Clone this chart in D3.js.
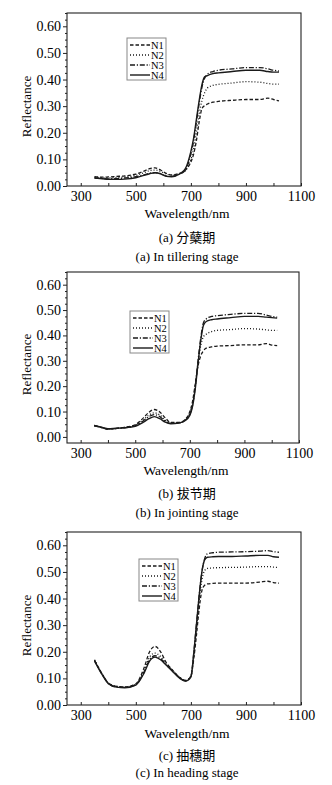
<!DOCTYPE html>
<html>
<head>
<meta charset="utf-8">
<script src="https://cdn.jsdelivr.net/npm/d3@7"></script>
<style>
  html, body { margin: 0; padding: 0; background: #fff; }
  svg { display: block; }
  text { font-family: "Liberation Serif", "Times New Roman", "Noto Sans CJK SC", serif; fill: #000; }
</style>
</head>
<body>
<svg id="chart" width="332" height="785"></svg>
<script>
// Wavelengths (nm) at which reflectance was sampled
const wavelengths = [350,380,400,430,460,500,530,550,570,590,610,630,660,680,700,710,720,730,740,750,760,780,800,850,900,950,980,1000,1020];

// (a) tillering stage
const tilleringN1 = [.035,.033,.034,.036,.038,.045,.056,.065,.068,.060,.048,.042,.048,.060,.090,.120,.170,.240,.290,.302,.308,.315,.318,.322,.325,.325,.330,.325,.320];
const tilleringN2 = [.033,.031,.030,.032,.034,.040,.050,.058,.060,.055,.045,.040,.046,.058,.100,.140,.200,.270,.320,.350,.368,.378,.382,.387,.392,.390,.385,.383,.383];
const tilleringN3 = [.030,.028,.027,.028,.030,.035,.042,.048,.050,.046,.038,.036,.045,.060,.120,.170,.240,.310,.370,.405,.420,.430,.435,.440,.445,.445,.440,.435,.432];
const tilleringN4 = [.030,.027,.025,.025,.026,.031,.040,.046,.050,.046,.036,.035,.046,.065,.130,.180,.250,.320,.380,.410,.415,.422,.425,.430,.435,.435,.430,.428,.428];

// (b) jointing stage
const jointingN1 = [.044,.036,.031,.034,.038,.048,.075,.097,.108,.098,.075,.057,.057,.066,.100,.140,.210,.280,.320,.340,.350,.355,.358,.360,.363,.363,.368,.362,.360];
const jointingN2 = [.044,.036,.031,.033,.037,.046,.068,.086,.095,.086,.066,.054,.056,.065,.095,.130,.200,.290,.360,.395,.405,.415,.420,.423,.427,.425,.422,.420,.420];
const jointingN3 = [.045,.036,.031,.033,.036,.044,.064,.080,.088,.080,.062,.053,.055,.063,.090,.125,.200,.300,.390,.450,.465,.475,.478,.483,.487,.487,.480,.475,.472];
const jointingN4 = [.045,.037,.032,.034,.036,.042,.058,.072,.080,.072,.058,.052,.055,.062,.085,.120,.190,.290,.380,.440,.455,.462,.465,.470,.475,.475,.472,.470,.468];

// (c) heading stage
const headingN1 = [.168,.112,.082,.070,.068,.080,.140,.200,.220,.200,.160,.135,.103,.092,.108,.170,.260,.360,.430,.450,.455,.457,.458,.458,.458,.462,.465,.460,.458];
const headingN2 = [.170,.113,.083,.070,.068,.078,.130,.180,.195,.182,.156,.134,.103,.092,.108,.180,.280,.390,.470,.505,.513,.515,.516,.517,.518,.520,.520,.518,.517];
const headingN3 = [.168,.112,.082,.068,.066,.076,.125,.170,.185,.175,.152,.132,.102,.091,.107,.190,.300,.410,.500,.550,.568,.572,.574,.575,.576,.578,.580,.576,.574];
const headingN4 = [.165,.110,.080,.067,.065,.075,.120,.165,.180,.170,.150,.130,.100,.090,.105,.190,.300,.410,.500,.545,.555,.557,.558,.558,.560,.562,.562,.557,.555];

// Axis ticks and labels
const seriesNames = ["N1", "N2", "N3", "N4"];
const xTickValues = [300, 500, 700, 900, 1100];
const yTickValues = [0, 0.1, 0.2, 0.3, 0.4, 0.5, 0.6];

const dashes = ["3.5,2", "1,2", "5,1.8,1.2,1.8", null];

const panels = [
  { box: [67, 301, 13, 186], yMin: 0, legend: [127, 38],
    series: [tilleringN1, tilleringN2, tilleringN3, tilleringN4],
    axisTitleY: 218, cnY: 242, enY: 261,
    cn: "(a) 分蘖期", en: "(a) In tillering stage" },
  { box: [67, 299, 272, 443], yMin: -0.024, legend: [130, 311],
    series: [jointingN1, jointingN2, jointingN3, jointingN4],
    axisTitleY: 475, cnY: 498, enY: 517,
    cn: "(b) 拔节期", en: "(b) In jointing stage" },
  { box: [67, 301, 532, 705], yMin: 0, legend: [139, 559],
    series: [headingN1, headingN2, headingN3, headingN4],
    axisTitleY: 738, cnY: 760, enY: 777,
    cn: "(c) 抽穗期", en: "(c) In heading stage" }
];

const svg = d3.select("#chart");
const serif = "'Liberation Serif', 'Times New Roman', 'Noto Sans CJK SC', serif";

panels.forEach(p => {
  const [x0, x1, y0, y1] = p.box;
  const x = d3.scaleLinear().domain([250, 1100]).range([x0, x1]);
  const y = d3.scaleLinear().domain([p.yMin, 0.65]).range([y1, y0]);
  const g = svg.append("g");

  // frame
  g.append("rect").attr("x", x0).attr("y", y0)
    .attr("width", x1 - x0).attr("height", y1 - y0)
    .attr("fill", "none").attr("stroke", "#222").attr("stroke-width", 1.1);

  // x axis: inward ticks every 100 nm, labels every 200 nm
  const xAxis = d3.axisBottom(x).tickValues(d3.range(300, 1101, 100))
    .tickSize(-3).tickFormat(d => xTickValues.includes(d) ? d : "");
  const gx = g.append("g").attr("transform", `translate(0,${y1})`).call(xAxis);
  gx.attr("font-family", serif);
  gx.select(".domain").remove();
  gx.selectAll(".tick line").attr("stroke", "#222");
  gx.selectAll(".tick text").attr("dy", "0").attr("y", 15)
    .style("font-size", "14px").style("font-family", serif);

  // y axis: major ticks with labels, minor ticks between
  const minor = d3.range(0, 0.651, 0.025).filter(v => Math.abs(v * 10 - Math.round(v * 10)) > 1e-6);
  const gyMinor = g.append("g").attr("transform", `translate(${x0},0)`)
    .call(d3.axisLeft(y).tickValues(minor).tickSize(2).tickFormat(""));
  gyMinor.select(".domain").remove();
  gyMinor.selectAll(".tick line").attr("stroke", "#222");
  const gy = g.append("g").attr("transform", `translate(${x0},0)`)
    .call(d3.axisLeft(y).tickValues(yTickValues).tickSize(4).tickPadding(2).tickFormat(d3.format(".2f")));
  gy.attr("font-family", serif);
  gy.select(".domain").remove();
  gy.selectAll(".tick line").attr("stroke", "#222");
  gy.selectAll(".tick text").style("font-size", "14px").style("font-family", serif);

  // spectra
  const line = d3.line().x((d, i) => x(wavelengths[i])).y(d => y(d)).curve(d3.curveMonotoneX);
  p.series.forEach((vals, k) => {
    g.append("path").datum(vals).attr("d", line)
      .attr("fill", "none").attr("stroke", "#1a1a1a")
      .attr("stroke-width", k === 3 ? 1.4 : 1.3)
      .attr("stroke-dasharray", dashes[k]);
  });

  // legend
  const [lx, ly] = p.legend;
  const lg = g.append("g").attr("transform", `translate(${lx},${ly})`);
  lg.append("rect").attr("width", 39).attr("height", 42)
    .attr("fill", "#fff").attr("stroke", "#888").attr("stroke-width", 1);
  seriesNames.forEach((name, k) => {
    const yy = 7 + k * 10;
    lg.append("line").attr("x1", 3).attr("x2", 23).attr("y1", yy).attr("y2", yy)
      .attr("stroke", "#1a1a1a").attr("stroke-width", k === 3 ? 1.4 : 1.3)
      .attr("stroke-dasharray", dashes[k]);
    lg.append("text").attr("x", 24).attr("y", yy + 3.5)
      .style("font-family", serif).style("font-size", "10.5px").text(name);
  });

  // axis titles
  g.append("text").attr("x", (x0 + x1) / 2 + 3).attr("y", p.axisTitleY)
    .attr("text-anchor", "middle").style("font-family", serif).style("font-size", "13.5px").text("Wavelength/nm");
  g.append("text")
    .attr("transform", `translate(31,${(y0 + y1) / 2 + 7}) rotate(-90)`)
    .attr("text-anchor", "middle").style("font-family", serif).style("font-size", "13px").text("Reflectance");

  // captions
  g.append("text").attr("x", 187).attr("y", p.cnY)
    .attr("text-anchor", "middle").style("font-family", serif).style("font-size", "13px").text(p.cn);
  g.append("text").attr("x", 187).attr("y", p.enY)
    .attr("text-anchor", "middle").style("font-family", serif).style("font-size", "13px").text(p.en);
});
</script>
</body>
</html>
